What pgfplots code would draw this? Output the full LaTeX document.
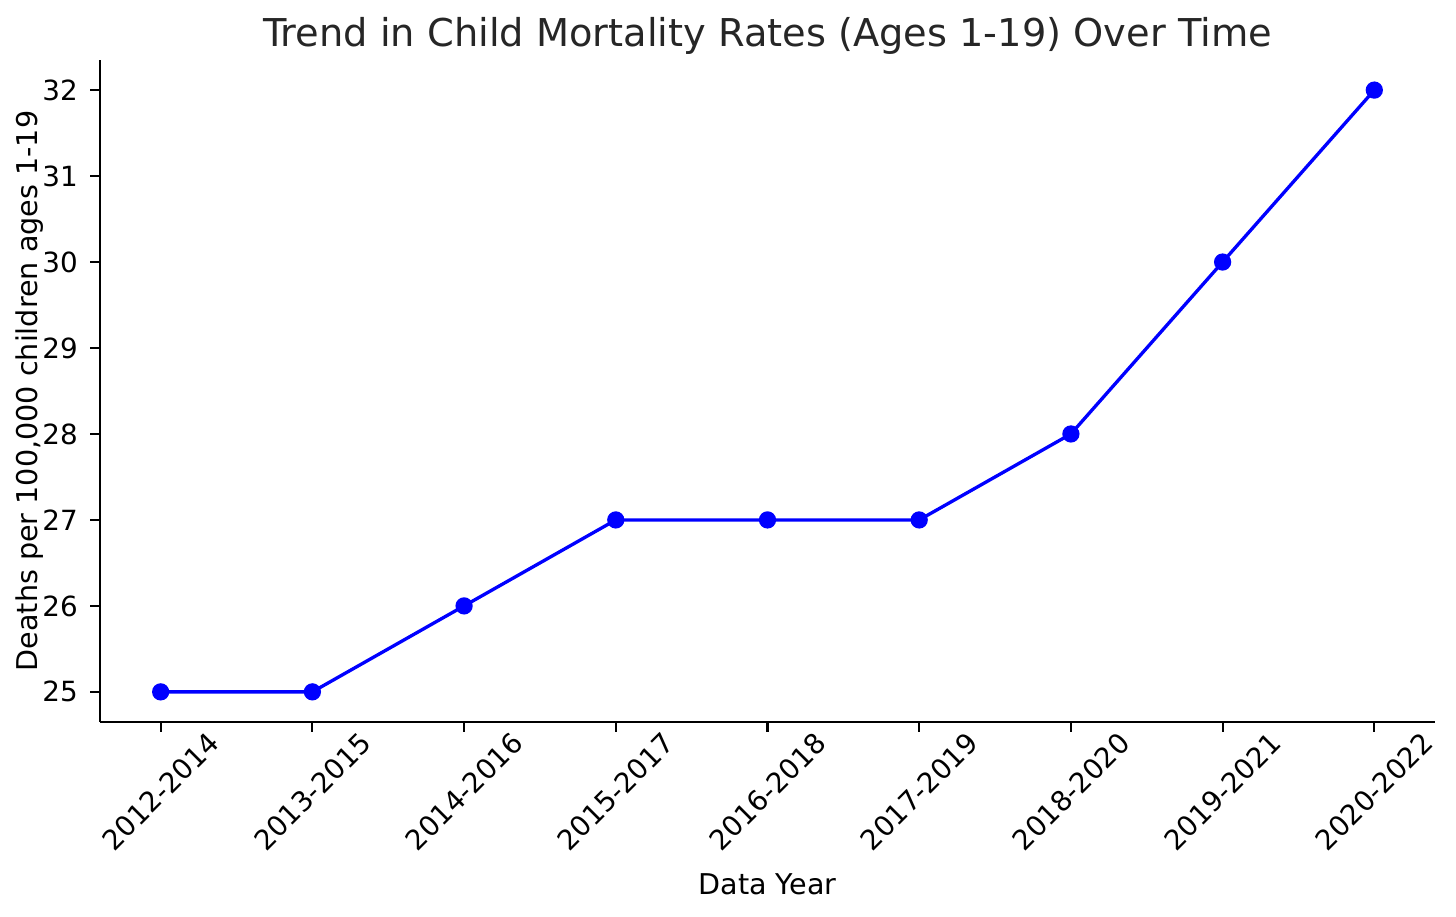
\documentclass[border=0pt]{standalone}
\usepackage{pgfplots}
\pgfplotsset{compat=1.18}
\usepackage{fontspec}
\setmainfont{DejaVu Sans}
\definecolor{txt}{RGB}{38,38,38}
\begin{document}
\begin{tikzpicture}
\begin{axis}[
  at={(0,0)}, anchor=south west,
  scale only axis,
  width=480.6pt, height=238.3pt,
  xmin=-0.4, xmax=8.4,
  ymin=24.65, ymax=32.35,
  axis x line*=bottom, axis y line*=left,
  axis line style={line width=0.8pt, black, -},
  tick style={line width=0.8pt, black},
  tick align=outside,
  major tick length=3.5pt,
  xtick={0,...,8},
  xticklabels={2012-2014,2013-2015,2014-2016,2015-2017,2016-2018,2017-2019,2018-2020,2019-2021,2020-2022},
  ytick={25,...,32},
  /pgf/number format/assume math mode=true,
  tick label style={font=\fontsize{10}{12}\selectfont, black},
  xticklabel style={anchor=center, yshift=-21.6pt, rotate=45},
  yticklabel style={xshift=-1pt},
  every axis title shift=0pt,
  title={Trend in Child Mortality Rates (Ages 1-19) Over Time},
  title style={at={(0.5,1)}, anchor=base, yshift=4.7pt, font=\fontsize{13.8}{16}\selectfont, text=txt},
  xlabel={Data Year},
  xlabel style={at={(0.5,0)}, anchor=center, yshift=-58.3pt, font=\fontsize{10.3}{12}\selectfont, black},
  ylabel={Deaths per 100,000 children ages 1-19},
  ylabel style={at={(0,0.5)}, anchor=center, yshift=25.2pt, font=\fontsize{10.3}{12}\selectfont, black},
  clip=false,
]
\addplot[color={rgb,255:red,0;green,0;blue,255}, line width=1.2pt, mark=*, mark size=2.5pt, mark options={solid}]
  coordinates {(0,25) (1,25) (2,26) (3,27) (4,27) (5,27) (6,28) (7,30) (8,32)};
\end{axis}
\pgfresetboundingbox
\path[use as bounding box] (-36pt,-70.2pt) rectangle (488.16pt,259.9pt);
\end{tikzpicture}
\end{document}
